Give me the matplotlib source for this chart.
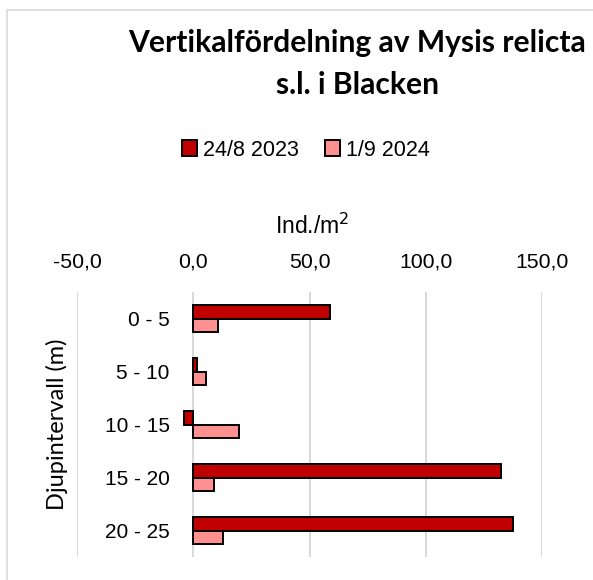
import numpy as np
import matplotlib
matplotlib.use("Agg")
import matplotlib.pyplot as plt
from matplotlib.patches import Rectangle
from matplotlib.ticker import FuncFormatter

# depth intervals and densities (Ind./m2)
categories = ["0 - 5", "5 - 10", "10 - 15", "15 - 20", "20 - 25"]
series_2023 = [58.7, 1.7, -3.9, 132.2, 137.4]
series_2024 = [10.5, 5.3, 19.5, 9.1, 12.7]
labels = ["24/8 2023", "1/9 2024"]
colors = ["#C00000", "#FF9090"]

plt.rcParams['font.family'] = ['Liberation Sans', 'DejaVu Sans']

fig = plt.figure(figsize=(5.93, 5.8), dpi=100)
# chart border (cut off at right and bottom)
fig.patches.append(Rectangle((7/593, -0.05), 1.0, 1.05 - 10/580, transform=fig.transFigure,
                             fill=False, edgecolor="#D9D9D9", linewidth=1.2))

ax = fig.add_axes([77/593, 1 - 557/580, 465/593, 265/580])
y = np.arange(len(categories))
h = 0.264
ax.barh(y - h/2, series_2023, height=h, color=colors[0], edgecolor="black",
        linewidth=1.4, label=labels[0], zorder=3)
ax.barh(y + h/2, series_2024, height=h, color=colors[1], edgecolor="black",
        linewidth=1.4, label=labels[1], zorder=3)

ax.set_xlim(-50, 150)
ax.set_ylim(4.5, -0.5)
ax.set_xticks([-50, 0, 50, 100, 150])
ax.xaxis.set_major_formatter(FuncFormatter(lambda v, p: f"{v:.1f}".replace(".", ",")))
ax.xaxis.tick_top()
ax.tick_params(axis='x', length=0, pad=15, labelsize=15.3)
ax.grid(axis='x', color="#D9D9D9", linewidth=1.5, zorder=0)
ax.set_axisbelow(True)

ax.set_yticks(y)
ax.set_yticklabels(categories)
ax.spines['left'].set_position(('data', 0))
for s in ax.spines.values():
    s.set_visible(False)
ax.tick_params(axis='y', length=0, pad=17, labelsize=15)

fig.text(312/593, 1 - 226/580, "Ind./m$^2$", ha='center', va='center', fontsize=16.5)

fig.text(57/593, 1 - 424/580, "Djupintervall (m)", rotation=90, ha='center', va='center',
         fontsize=17, family='Lato')

fig.text(357/593, 1 - 52/580, "Vertikalfördelning av Mysis relicta",
         ha='center', va='baseline', fontsize=21.6, fontweight='bold', family='Lato')
fig.text(357/593, 1 - 94/580, "s.l. i Blacken",
         ha='center', va='baseline', fontsize=21.6, fontweight='bold', family='Lato')

fig.legend(loc='center', bbox_to_anchor=(306/593, 1 - 150/580), ncol=2, frameon=False,
           fontsize=15.5, handlelength=0.7, handleheight=0.7, handletextpad=0.3,
           columnspacing=1.2, borderpad=0)

fig.savefig("out.png", dpi=100)
